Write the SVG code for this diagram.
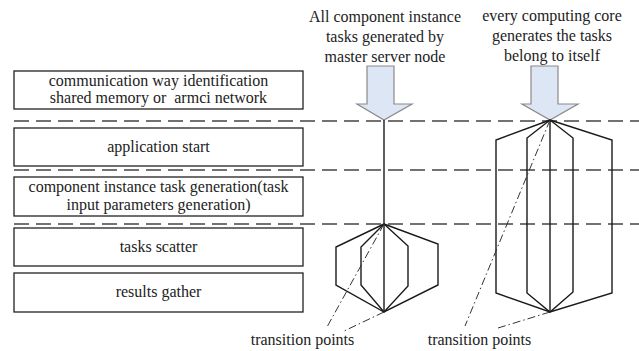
<svg xmlns="http://www.w3.org/2000/svg" width="639" height="351" viewBox="0 0 639 351">
<style>
text{font-family:'Liberation Serif','Times New Roman',serif;font-size:16px;fill:#222;text-anchor:middle}
.box{fill:#fff;stroke:#222;stroke-width:1.3}
.sep{stroke:#444;stroke-width:1.5;stroke-dasharray:15 7;fill:none}
.ln{stroke:#1a1a1a;stroke-width:1.4;fill:none;stroke-linejoin:miter}
.dd{stroke:#333;stroke-width:1;stroke-dasharray:8 3 1.5 3;fill:none}
.arr{fill:#dde6f4;stroke:#8a8a8a;stroke-width:1.2}
</style>
<rect width="639" height="351" fill="#fff"/>
<g id="separators">
<line class="sep" x1="14" y1="121" x2="639" y2="121"/>
<line class="sep" x1="14" y1="170" x2="639" y2="170"/>
<line class="sep" x1="14" y1="224" x2="639" y2="224"/>
</g>
<g id="box-communication">
<rect class="box" x="14" y="71" width="289" height="38"/>
<text x="158.5" y="86">communication way identification</text>
<text x="158.5" y="103" xml:space="preserve">shared memory or  armci network</text>
</g>
<g id="box-application">
<rect class="box" x="14" y="128" width="289" height="38"/>
<text x="158.5" y="152">application start</text>
</g>
<g id="box-generation">
<rect class="box" x="14" y="177" width="289" height="39"/>
<text x="158.5" y="192">component instance task generation(task</text>
<text x="158.5" y="210">input parameters generation)</text>
</g>
<g id="box-scatter">
<rect class="box" x="14" y="228" width="289" height="38"/>
<text x="158.5" y="252">tasks scatter</text>
</g>
<g id="box-gather">
<rect class="box" x="14" y="273" width="289" height="39"/>
<text x="158.5" y="297">results gather</text>
</g>
<g id="master-label">
<text x="385" y="22">All component instance</text>
<text x="385" y="42">tasks generated by</text>
<text x="385" y="62">master server node</text>
</g>
<g id="core-label">
<text x="552" y="21">every computing core</text>
<text x="552" y="41">generates the tasks</text>
<text x="552" y="61">belong to itself</text>
</g>
<g id="master-arrow">
<polygon class="arr" points="367,66 394,66 394,104 412,104 384,120 357,104 367,104"/>
</g>
<g id="core-arrow">
<polygon class="arr" points="531,66 558,66 558,104 578,104 550,120 522,104 531,104"/>
</g>
<g id="connectors">
<g id="master-tree">
<line class="ln" x1="384" y1="120" x2="384" y2="312"/>
<polyline class="ln" points="384,224 336,247 336,285 384,312 438,285 438,244 384,224"/>
<polyline class="ln" points="384,224 361,247 361,285 384,312 408,286 408,246 384,224"/>
</g>
<g id="core-tree">
<line class="ln" x1="550" y1="120" x2="550" y2="312"/>
<polyline class="ln" points="550,120 496,140 496,293 550,312 612,293 612,140 550,120"/>
<polyline class="ln" points="550,120 527,138 527,293 550,312 573,292 573,138 550,120"/>
</g>
<g id="transition-lines">
<line class="dd" x1="384" y1="224" x2="327" y2="327"/>
<line class="dd" x1="384" y1="312" x2="342" y2="332"/>
<line class="dd" x1="550" y1="120" x2="465" y2="326"/>
<line class="dd" x1="550" y1="312" x2="498" y2="328"/>
</g>
</g>
<g id="transition-left">
<text x="302.5" y="345">transition points</text>
</g>
<g id="transition-right">
<text x="479.5" y="345">transition points</text>
</g>
</svg>
